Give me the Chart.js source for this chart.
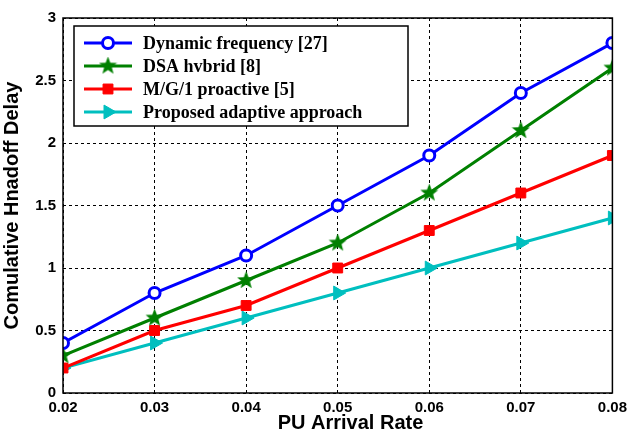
<!DOCTYPE html>
<html>
<head>
<meta charset="utf-8">
<script src="https://cdn.jsdelivr.net/npm/chart.js@4/dist/chart.umd.min.js"></script>
<style>
  html, body { margin: 0; padding: 0; background: #fff; }
  #wrap { width: 633px; height: 435px; }
</style>
</head>
<body>
<div id="wrap"><canvas id="chart"></canvas></div>
<script>
// data
const arrivalRates = [0.02, 0.03, 0.04, 0.05, 0.06, 0.07, 0.08];
const dynamicFreq = [0.4, 0.8, 1.1, 1.5, 1.9, 2.4, 2.8];
const dsaHybrid   = [0.3, 0.6, 0.9, 1.2, 1.6, 2.1, 2.6];
const mg1Proactive = [0.2, 0.5, 0.7, 1.0, 1.3, 1.6, 1.9];
const proposed    = [0.2, 0.4, 0.6, 0.8, 1.0, 1.2, 1.4];
const seriesNames = ["Dynamic frequency [27]", "DSA hvbrid [8]", "M/G/1 proactive [5]", "Proposed adaptive approach"];

const toXY = arr => arr.map((v, i) => ({ x: arrivalRates[i], y: v }));

// 5 pointed star marker for the green line
function starMarker(color, size) {
    const c = document.createElement("canvas");
    c.width = size; c.height = size;
    const g = c.getContext("2d");
    const cx = size / 2, cy = size / 2, R = size / 2, r = R * 0.42;
    g.beginPath();
    for (let i = 0; i < 10; i++) {
        const a = -Math.PI / 2 + i * Math.PI / 5;
        const rr = i % 2 === 0 ? R : r;
        g.lineTo(cx + rr * Math.cos(a), cy + rr * Math.sin(a));
    }
    g.closePath();
    g.fillStyle = color;
    g.fill();
    return c;
}
const greenStar = starMarker("#008000", 19);

const frame = {
    id: "frame",
    afterDraw(chart) {
        const { ctx, chartArea: a } = chart;
        ctx.save();
        ctx.strokeStyle = "#000";
        ctx.lineWidth = 1.5;
        ctx.strokeRect(a.left, a.top, a.right - a.left, a.bottom - a.top);

        // legend box inside the plot
        const bx = 74, by = 26, bw = 334, bh = 100;
        ctx.fillStyle = "#fff";
        ctx.fillRect(bx, by, bw, bh);
        ctx.lineWidth = 1.5;
        ctx.strokeRect(bx, by, bw, bh);
        ctx.font = "bold 18px 'Liberation Serif', serif";
        ctx.textBaseline = "middle";
        chart.data.datasets.forEach((ds, i) => {
            const y = 43 + i * 23;
            ctx.strokeStyle = ds.borderColor;
            ctx.lineWidth = 3;
            ctx.beginPath();
            ctx.moveTo(84, y);
            ctx.lineTo(132, y);
            ctx.stroke();
            ctx.fillStyle = ds.pointBackgroundColor;
            ctx.strokeStyle = ds.pointBorderColor || ds.borderColor;
            ctx.lineWidth = ds.pointBorderWidth;
            Chart.helpers.drawPoint(ctx, {
                pointStyle: ds.pointStyle,
                radius: ds.pointRadius,
                rotation: ds.pointRotation || 0,
                borderWidth: ds.pointBorderWidth
            }, 108, y);
            ctx.fillStyle = "#000";
            ctx.fillText(ds.label, 143, y + 1);
        });
        ctx.restore();
    }
};

new Chart(document.getElementById("chart"), {
    type: "line",
    data: {
        datasets: [
            {
                label: seriesNames[0], data: toXY(dynamicFreq),
                borderColor: "#0000ff", backgroundColor: "#0000ff",
                borderWidth: 3, pointStyle: "circle", pointRadius: 5.5,
                pointBorderWidth: 3, pointBackgroundColor: "#fff", pointBorderColor: "#0000ff"
            },
            {
                label: seriesNames[1], data: toXY(dsaHybrid),
                borderColor: "#008000", backgroundColor: "#008000",
                borderWidth: 3, pointStyle: greenStar, pointRadius: 9,
                pointBorderWidth: 0, pointBackgroundColor: "#008000"
            },
            {
                label: seriesNames[2], data: toXY(mg1Proactive),
                borderColor: "#ff0000", backgroundColor: "#ff0000",
                borderWidth: 3, pointStyle: "rect", pointRadius: 7,
                pointBorderWidth: 1, pointBackgroundColor: "#ff0000", pointBorderColor: "#ff0000"
            },
            {
                label: seriesNames[3], data: toXY(proposed),
                borderColor: "#00bfbf", backgroundColor: "#00bfbf",
                borderWidth: 3, pointStyle: "triangle", pointRotation: 90, pointRadius: 8,
                pointBorderWidth: 1, pointBackgroundColor: "#00bfbf", pointBorderColor: "#00bfbf"
            }
        ]
    },
    options: {
        responsive: true,
        maintainAspectRatio: false,
        animation: false,
        layout: { padding: { top: 18, right: 18, left: 0, bottom: 0 } },
        plugins: { legend: { display: false }, tooltip: { enabled: false } },
        scales: {
            x: {
                type: "linear", min: 0.02, max: 0.08,
                afterFit: s => { s.height = 42; },
                grid: { color: "#000", lineWidth: 1, drawTicks: false },
                border: { display: false, dash: [3, 3] },
                ticks: {
                    stepSize: 0.01, padding: 6, color: "#000",
                    font: { family: "Liberation Sans", size: 15, weight: "bold" },
                    callback: v => v.toFixed(2)
                },
                title: {
                    // leading em space nudges the title right like the original
                    display: true, text: "\u2003 PU Arrival Rate", color: "#000", padding: 0,
                    font: { family: "Liberation Sans", size: 20, weight: "bold" }
                }
            },
            y: {
                min: 0, max: 3,
                afterFit: s => { s.width = 63; },
                grid: { color: "#000", lineWidth: 1, drawTicks: false },
                border: { display: false, dash: [3, 3] },
                ticks: {
                    stepSize: 0.5, padding: 7, color: "#000",
                    font: { family: "Liberation Sans", size: 15, weight: "bold" },
                    callback: v => String(v)
                },
                title: {
                    display: true, text: "Comulative Hnadoff Delay", color: "#000", padding: 0,
                    font: { family: "Liberation Sans", size: 20, weight: "bold" }
                }
            }
        }
    },
    plugins: [frame]
});
</script>
</body>
</html>
